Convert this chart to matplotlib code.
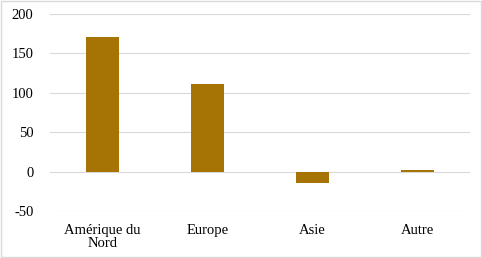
import matplotlib
matplotlib.use("Agg")
import matplotlib.pyplot as plt
from matplotlib.patches import Rectangle

## Data
categories = ["Amérique du\nNord", "Europe", "Asie", "Autre"]
values = [171, 111, -15, 2]
yticks = [-50, 0, 50, 100, 150, 200]

BAR_COLOR = "#A67405"

plt.rcParams['font.family'] = ['Liberation Serif', 'DejaVu Serif']

fig = plt.figure(figsize=(4.82, 2.58), dpi=100)
ax = fig.add_axes([0.104, 0.182, 0.871, 0.764])

x = range(len(categories))
ax.bar(x, values, width=0.31, color=BAR_COLOR, zorder=3)

ax.set_xlim(-0.5, len(categories) - 0.5)
ax.set_ylim(-50, 200)
ax.set_yticks(yticks)
ax.set_yticklabels([str(t) for t in yticks], fontsize=10.5)
ax.set_xticks(list(x))
ax.set_xticklabels(categories, fontsize=10.5, linespacing=1.0)

ax.grid(axis="y", color="#D9D9D9", linewidth=0.8, zorder=0)
for s in ax.spines.values():
    s.set_visible(False)
ax.tick_params(axis="y", length=0, pad=12, colors="#000000")
ax.tick_params(axis="x", length=0, pad=9, colors="#000000")

# light border around the whole chart
fig.patches.append(Rectangle((0.002, 0.004), 0.996, 0.992, transform=fig.transFigure,
                             fill=False, edgecolor="#D9D9D9", linewidth=1))

fig.savefig("out.png", dpi=100)
